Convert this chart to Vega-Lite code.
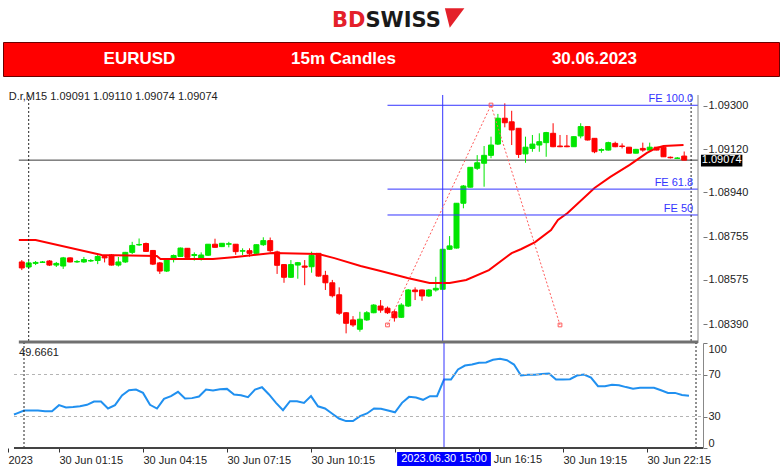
{
"$schema": "https://vega.github.io/schema/vega-lite/v6.json",
"background": "white",
"padding": {"left": 2, "top": 0, "right": 0, "bottom": 0},
"bounds": "flush",
"spacing": 0,
"config": {"view": {"stroke": null}, "font": "Liberation Sans", "axis": {"grid": false}},
"datasets": {
"candles": [
{"i":-1,"o":1.08649,"h":1.08657,"l":1.08615,"c":1.08624},
{"i":0,"o":1.08628,"h":1.08653,"l":1.08624,"c":1.08645},
{"i":1,"o":1.08643,"h":1.08653,"l":1.08636,"c":1.08647},
{"i":2,"o":1.08647,"h":1.08653,"l":1.08645,"c":1.08649},
{"i":3,"o":1.08653,"h":1.08657,"l":1.08632,"c":1.08636},
{"i":4,"o":1.08636,"h":1.08649,"l":1.08628,"c":1.08643},
{"i":5,"o":1.08632,"h":1.0867,"l":1.0862,"c":1.08666},
{"i":6,"o":1.08666,"h":1.08668,"l":1.08647,"c":1.08649},
{"i":7,"o":1.08649,"h":1.08657,"l":1.08645,"c":1.08651},
{"i":8,"o":1.08649,"h":1.0867,"l":1.08645,"c":1.08659},
{"i":9,"o":1.08653,"h":1.08661,"l":1.08649,"c":1.08655},
{"i":10,"o":1.08655,"h":1.08678,"l":1.0864,"c":1.08672},
{"i":11,"o":1.08672,"h":1.08678,"l":1.08647,"c":1.08666},
{"i":12,"o":1.08678,"h":1.08682,"l":1.08634,"c":1.08636},
{"i":13,"o":1.08636,"h":1.0867,"l":1.0863,"c":1.08649},
{"i":14,"o":1.08649,"h":1.08691,"l":1.08645,"c":1.08689},
{"i":15,"o":1.08689,"h":1.08733,"l":1.08682,"c":1.08718},
{"i":16,"o":1.0872,"h":1.08747,"l":1.08716,"c":1.08722},
{"i":17,"o":1.08726,"h":1.0873,"l":1.08691,"c":1.08693},
{"i":18,"o":1.08697,"h":1.08699,"l":1.08636,"c":1.0864},
{"i":19,"o":1.08645,"h":1.08649,"l":1.08599,"c":1.08611},
{"i":20,"o":1.08611,"h":1.08661,"l":1.08607,"c":1.08659},
{"i":21,"o":1.08659,"h":1.0868,"l":1.08647,"c":1.08676},
{"i":22,"o":1.08672,"h":1.08709,"l":1.0867,"c":1.08707},
{"i":23,"o":1.08706,"h":1.08707,"l":1.08668,"c":1.08668},
{"i":24,"o":1.08676,"h":1.08689,"l":1.08655,"c":1.0868},
{"i":25,"o":1.08665,"h":1.08689,"l":1.08655,"c":1.08678},
{"i":26,"o":1.08677,"h":1.08724,"l":1.08674,"c":1.08723},
{"i":27,"o":1.08723,"h":1.08746,"l":1.08709,"c":1.0871},
{"i":28,"o":1.08713,"h":1.08728,"l":1.08711,"c":1.08727},
{"i":29,"o":1.08723,"h":1.08733,"l":1.0871,"c":1.08725},
{"i":30,"o":1.08723,"h":1.08724,"l":1.08679,"c":1.08692},
{"i":31,"o":1.08694,"h":1.08706,"l":1.08678,"c":1.08696},
{"i":32,"o":1.08696,"h":1.08706,"l":1.08671,"c":1.08685},
{"i":33,"o":1.08685,"h":1.08722,"l":1.08682,"c":1.08721},
{"i":34,"o":1.08721,"h":1.08752,"l":1.08716,"c":1.08738},
{"i":35,"o":1.08738,"h":1.08751,"l":1.08689,"c":1.08696},
{"i":36,"o":1.08691,"h":1.08696,"l":1.08599,"c":1.08635},
{"i":37,"o":1.08638,"h":1.0864,"l":1.08562,"c":1.08585},
{"i":38,"o":1.08585,"h":1.08657,"l":1.08582,"c":1.08638},
{"i":39,"o":1.08636,"h":1.08649,"l":1.08579,"c":1.08646},
{"i":40,"o":1.08632,"h":1.08657,"l":1.08552,"c":1.08627},
{"i":41,"o":1.08629,"h":1.08692,"l":1.08604,"c":1.08677},
{"i":42,"o":1.08685,"h":1.08686,"l":1.08588,"c":1.0859},
{"i":43,"o":1.08593,"h":1.08612,"l":1.08532,"c":1.08562},
{"i":44,"o":1.08562,"h":1.08574,"l":1.08501,"c":1.08508},
{"i":45,"o":1.08512,"h":1.08543,"l":1.08428,"c":1.08435},
{"i":46,"o":1.08437,"h":1.0844,"l":1.08351,"c":1.08393},
{"i":47,"o":1.08407,"h":1.08423,"l":1.08378,"c":1.08386},
{"i":48,"o":1.08368,"h":1.08441,"l":1.08358,"c":1.0841},
{"i":49,"o":1.08407,"h":1.08444,"l":1.08403,"c":1.08437},
{"i":50,"o":1.08437,"h":1.08473,"l":1.08435,"c":1.08469},
{"i":51,"o":1.08465,"h":1.0849,"l":1.08437,"c":1.08448},
{"i":52,"o":1.08456,"h":1.08463,"l":1.08432,"c":1.08437},
{"i":53,"o":1.08441,"h":1.08448,"l":1.084,"c":1.08416},
{"i":54,"o":1.08418,"h":1.08477,"l":1.08415,"c":1.08469},
{"i":55,"o":1.08465,"h":1.08536,"l":1.08461,"c":1.08532},
{"i":56,"o":1.08532,"h":1.08543,"l":1.0849,"c":1.08525},
{"i":57,"o":1.08532,"h":1.08534,"l":1.08487,"c":1.08507},
{"i":58,"o":1.08507,"h":1.08536,"l":1.08503,"c":1.08532},
{"i":59,"o":1.08532,"h":1.08587,"l":1.08525,"c":1.08539},
{"i":60,"o":1.08535,"h":1.08703,"l":1.08532,"c":1.08702},
{"i":61,"o":1.08702,"h":1.08757,"l":1.08699,"c":1.08716},
{"i":62,"o":1.08707,"h":1.08895,"l":1.08705,"c":1.08894},
{"i":63,"o":1.08894,"h":1.0897,"l":1.08873,"c":1.08966},
{"i":64,"o":1.08961,"h":1.09045,"l":1.0896,"c":1.09044},
{"i":65,"o":1.0904,"h":1.09095,"l":1.09033,"c":1.09063},
{"i":66,"o":1.09061,"h":1.09133,"l":1.08963,"c":1.09094},
{"i":67,"o":1.09094,"h":1.09172,"l":1.09082,"c":1.09137},
{"i":68,"o":1.09141,"h":1.09267,"l":1.09137,"c":1.09249},
{"i":69,"o":1.09249,"h":1.09311,"l":1.09211,"c":1.0923},
{"i":70,"o":1.09234,"h":1.0928,"l":1.09137,"c":1.092},
{"i":71,"o":1.09207,"h":1.09208,"l":1.09083,"c":1.09098},
{"i":72,"o":1.091,"h":1.09172,"l":1.09063,"c":1.09128},
{"i":73,"o":1.09123,"h":1.09179,"l":1.09109,"c":1.09141},
{"i":74,"o":1.09137,"h":1.09186,"l":1.09109,"c":1.09151},
{"i":75,"o":1.09147,"h":1.09192,"l":1.09088,"c":1.09189},
{"i":76,"o":1.09186,"h":1.09228,"l":1.09128,"c":1.0913},
{"i":77,"o":1.09133,"h":1.09179,"l":1.09128,"c":1.0913},
{"i":78,"o":1.09133,"h":1.09179,"l":1.09128,"c":1.0913},
{"i":79,"o":1.0913,"h":1.09173,"l":1.09129,"c":1.09172},
{"i":80,"o":1.09175,"h":1.09228,"l":1.09165,"c":1.09214},
{"i":81,"o":1.09214,"h":1.09215,"l":1.09156,"c":1.09158},
{"i":82,"o":1.09165,"h":1.09166,"l":1.09103,"c":1.09109},
{"i":83,"o":1.09115,"h":1.09123,"l":1.09105,"c":1.09118},
{"i":84,"o":1.09116,"h":1.09151,"l":1.09114,"c":1.09147},
{"i":85,"o":1.09144,"h":1.09151,"l":1.09128,"c":1.0913},
{"i":86,"o":1.09133,"h":1.09144,"l":1.09123,"c":1.09131},
{"i":87,"o":1.09128,"h":1.09129,"l":1.09102,"c":1.09103},
{"i":88,"o":1.09103,"h":1.09121,"l":1.09102,"c":1.09119},
{"i":89,"o":1.09123,"h":1.09147,"l":1.09109,"c":1.09116},
{"i":90,"o":1.09116,"h":1.09147,"l":1.09109,"c":1.09128},
{"i":91,"o":1.09128,"h":1.09129,"l":1.09115,"c":1.09116},
{"i":92,"o":1.09128,"h":1.0913,"l":1.09087,"c":1.09088},
{"i":93,"o":1.09086,"h":1.09089,"l":1.09081,"c":1.09084},
{"i":94,"o":1.09081,"h":1.09087,"l":1.09079,"c":1.09083},
{"i":95,"o":1.09091,"h":1.0911,"l":1.09074,"c":1.09074}
],
"ma": [
{"i":-1.43,"v":1.08741},{"i":1,"v":1.08741},{"i":10.57,"v":1.08678},{"i":18.57,"v":1.08674},{"i":19.1,"v":1.08661},{"i":26.7,"v":1.08661},{"i":30,"v":1.0867},{"i":35.3,"v":1.08686},{"i":42,"v":1.08682},{"i":44.3,"v":1.08665},{"i":48.1,"v":1.08632},{"i":51,"v":1.08611},{"i":54.9,"v":1.08582},{"i":58.1,"v":1.08561},{"i":61,"v":1.08561},{"i":63.4,"v":1.08574},{"i":66.7,"v":1.08615},{"i":70,"v":1.08686},{"i":71.4,"v":1.08703},{"i":73.4,"v":1.08732},{"i":75.7,"v":1.08782},{"i":76.7,"v":1.08824},{"i":78.1,"v":1.08853},{"i":82,"v":1.08958},{"i":84.3,"v":1.09004},{"i":87.1,"v":1.09054},{"i":89.6,"v":1.09104},{"i":91,"v":1.09125},{"i":92,"v":1.09133},{"i":94.9,"v":1.09137}
],
"rsi": [
{"i":-1.43,"r":31.9},{"i":-1,"r":33},{"i":0,"r":35.7},{"i":1,"r":35.7},{"i":2,"r":35.7},{"i":3,"r":35.1},{"i":4,"r":35.1},{"i":5,"r":40.8},{"i":6,"r":38.6},{"i":7,"r":39.0},{"i":8,"r":39.7},{"i":9,"r":41.1},{"i":10,"r":44.3},{"i":11,"r":44.3},{"i":12,"r":37.6},{"i":13,"r":40.8},{"i":14,"r":50.0},{"i":15,"r":55.0},{"i":16,"r":55.7},{"i":17,"r":52.5},{"i":18,"r":41.1},{"i":19,"r":37.6},{"i":20,"r":46.8},{"i":21,"r":49.4},{"i":22,"r":53.5},{"i":23,"r":47.1},{"i":24,"r":47.5},{"i":25,"r":49.0},{"i":26,"r":55.7},{"i":27,"r":54.8},{"i":28,"r":56.0},{"i":29,"r":56.3},{"i":30,"r":51.0},{"i":31,"r":50.3},{"i":32,"r":48.4},{"i":33,"r":55.7},{"i":34,"r":57.9},{"i":35,"r":51.0},{"i":36,"r":43.0},{"i":37,"r":36.0},{"i":38,"r":44.6},{"i":39,"r":44.6},{"i":40,"r":43.0},{"i":41,"r":49.4},{"i":42,"r":39.7},{"i":43,"r":37.6},{"i":44,"r":32.9},{"i":45,"r":28.1},{"i":46,"r":25.6},{"i":47,"r":25.6},{"i":48,"r":30.3},{"i":49,"r":32.9},{"i":50,"r":37.6},{"i":51,"r":37.3},{"i":52,"r":35.7},{"i":53,"r":34.0},{"i":54,"r":43.0},{"i":55,"r":48.7},{"i":56,"r":48.0},{"i":57,"r":45.9},{"i":58,"r":49.4},{"i":59,"r":49.4},{"i":60,"r":65.2},{"i":61,"r":65.2},{"i":62,"r":74.8},{"i":63,"r":78.5},{"i":64,"r":79.5},{"i":65,"r":81.1},{"i":66,"r":81.5},{"i":67,"r":84.0},{"i":68,"r":84.9},{"i":69,"r":83.6},{"i":70,"r":79.5},{"i":71,"r":69.0},{"i":72,"r":69.7},{"i":73,"r":69.7},{"i":74,"r":70.5},{"i":75,"r":71.0},{"i":76,"r":65.2},{"i":77,"r":65.2},{"i":78,"r":65.5},{"i":79,"r":69.0},{"i":80,"r":70.0},{"i":81,"r":67.0},{"i":82,"r":58.9},{"i":83,"r":58.9},{"i":84,"r":60.3},{"i":85,"r":59.8},{"i":86,"r":58.0},{"i":87,"r":56.5},{"i":88,"r":57.3},{"i":89,"r":57.3},{"i":90,"r":57.3},{"i":91,"r":55.0},{"i":92,"r":52.5},{"i":93,"r":52.5},{"i":94,"r":50.5},{"i":95,"r":49.67}
]
},
"vconcat": [
{
"width": 776, "height": 42,
"layer": [
{"data": {"values": [{"t": "BD", "x": 46.71, "y": 35.7}]},
 "mark": {"type": "text", "align": "right", "baseline": "alphabetic", "font": "DejaVu Sans", "fontWeight": "bold", "fontSize": 21, "color": "#e4202a"},
 "encoding": {"x": {"field": "x", "type": "quantitative", "scale": {"domain": [0, 100]}, "axis": null}, "y": {"field": "y", "type": "quantitative", "scale": {"domain": [0, 100]}, "axis": null}, "text": {"field": "t"}}},
{"data": {"values": [{"t": "SWISS", "x": 46.71, "y": 35.7}]},
 "mark": {"type": "text", "align": "left", "baseline": "alphabetic", "font": "DejaVu Sans", "fontWeight": "bold", "fontSize": 21, "color": "#1a1a1a"},
 "encoding": {"x": {"field": "x", "type": "quantitative", "scale": {"domain": [0, 100]}, "axis": null}, "y": {"field": "y", "type": "quantitative", "scale": {"domain": [0, 100]}, "axis": null}, "text": {"field": "t"}}},
{"data": {"values": [{"x": 58.2, "y": 57}]},
 "mark": {"type": "point", "shape": "M -1 -1 L 1 -1 L -0.5 1 Z", "filled": true, "size": 380, "color": "#e4202a", "opacity": 1},
 "encoding": {"x": {"field": "x", "type": "quantitative", "scale": {"domain": [0, 100]}, "axis": null}, "y": {"field": "y", "type": "quantitative", "scale": {"domain": [0, 100]}, "axis": null}}}
]
},
{
"width": 776, "height": 34,
"view": {"fill": "#ff0000", "stroke": "#6a0000", "strokeWidth": 1},
"data": {"values": [{"t": "EURUSD", "x": 17.59}, {"t": "15m Candles", "x": 43.88}, {"t": "30.06.2023", "x": 76.22}]},
"mark": {"type": "text", "font": "Liberation Sans", "fontWeight": "bold", "fontSize": 17, "color": "white", "baseline": "middle", "align": "center"},
"encoding": {"x": {"field": "x", "type": "quantitative", "scale": {"domain": [0, 100]}, "axis": null}, "y": {"datum": 50, "type": "quantitative", "scale": {"domain": [0, 100]}, "axis": null}, "text": {"field": "t"}}
},
{
"width": 700, "height": 267,
"layer": [
{"data": {"values": [{"p": 1.09074}]},
 "mark": {"type": "rule", "color": "#3a3a3a", "strokeWidth": 1},
 "encoding": {"x": {"datum": -1.43, "type": "quantitative", "scale": {"domain": [-3, 97], "nice": false, "zero": false},
   "axis": {"labels": false, "ticks": false, "domain": false, "grid": false, "title": null}},
  "x2": {"datum": 97},
  "y": {"field": "p", "type": "quantitative", "scale": {"domain": [1.083107, 1.094252], "nice": false, "zero": false},
   "axis": {"orient": "right", "values": [1.0839, 1.08575, 1.08755, 1.0894, 1.0912, 1.093], "format": ".5f", "title": null, "grid": false, "domain": false, "ticks": true, "labels": true, "labelOverlap": false, "tickSize": 4, "tickColor": "#777", "labelPadding": 1, "labelFontSize": 11, "labelColor": "#222", "labelFont": "Liberation Sans"}}}},
{"data": {"name": "candles"},
 "mark": {"type": "rule", "strokeWidth": 1},
 "encoding": {"x": {"field": "i", "type": "quantitative", "scale": {"domain": [-3, 97], "nice": false, "zero": false}}, "y": {"field": "l", "type": "quantitative", "scale": {"domain": [1.083107, 1.094252], "nice": false, "zero": false}}, "y2": {"field": "h"},
  "color": {"condition": {"test": "datum.c >= datum.o", "value": "#00e600"}, "value": "#ff0000"}}},
{"data": {"name": "candles"},
 "mark": {"type": "bar", "size": 5, "strokeWidth": 1},
 "encoding": {"x": {"field": "i", "type": "quantitative", "scale": {"domain": [-3, 97], "nice": false, "zero": false}}, "y": {"field": "o", "type": "quantitative", "scale": {"domain": [1.083107, 1.094252], "nice": false, "zero": false}},
  "y2": {"field": "c"},
  "color": {"condition": {"test": "datum.c >= datum.o", "value": "#00e600"}, "value": "#ff0000"},
  "stroke": {"condition": {"test": "datum.c >= datum.o", "value": "#00e600"}, "value": "#ff0000"}}},
{"data": {"name": "ma"},
 "mark": {"type": "line", "color": "#ff0000", "strokeWidth": 2},
 "encoding": {"x": {"field": "i", "type": "quantitative", "scale": {"domain": [-3, 97], "nice": false, "zero": false}}, "y": {"field": "v", "type": "quantitative", "scale": {"domain": [1.083107, 1.094252], "nice": false, "zero": false}}}},
{"data": {"values": [{"p": 1.09303}, {"p": 1.08953}, {"p": 1.08845}]},
 "mark": {"type": "rule", "color": "#3434ff", "strokeWidth": 1},
 "encoding": {"x": {"datum": 52, "type": "quantitative", "scale": {"domain": [-3, 97], "nice": false, "zero": false}}, "x2": {"datum": 97}, "y": {"field": "p", "type": "quantitative", "scale": {"domain": [1.083107, 1.094252], "nice": false, "zero": false}}}},
{"data": {"values": [{"i": 60}]},
 "mark": {"type": "rule", "color": "#3434ff", "strokeWidth": 1},
 "encoding": {"x": {"field": "i", "type": "quantitative", "scale": {"domain": [-3, 97], "nice": false, "zero": false}}, "y": {"datum": 1.093459, "type": "quantitative", "scale": {"domain": [1.083107, 1.094252], "nice": false, "zero": false}}, "y2": {"datum": 1.083149}}},
{"data": {"values": [{"i": 0}, {"i": 96}]},
 "mark": {"type": "rule", "color": "#222222", "strokeWidth": 1, "strokeDash": [2, 2]},
 "encoding": {"x": {"field": "i", "type": "quantitative", "scale": {"domain": [-3, 97], "nice": false, "zero": false}}, "y": {"datum": 1.093459, "type": "quantitative", "scale": {"domain": [1.083107, 1.094252], "nice": false, "zero": false}}, "y2": {"datum": 1.083149}}},
{"data": {"values": [{"i": 52, "p": 1.08386}, {"i": 67, "p": 1.09304}, {"i": 77, "p": 1.08386}]},
 "mark": {"type": "line", "color": "#ff5a5a", "strokeWidth": 1, "strokeDash": [2, 2]},
 "encoding": {"x": {"field": "i", "type": "quantitative", "scale": {"domain": [-3, 97], "nice": false, "zero": false}}, "y": {"field": "p", "type": "quantitative", "scale": {"domain": [1.083107, 1.094252], "nice": false, "zero": false}}}},
{"data": {"values": [{"i": 52, "p": 1.08386}, {"i": 67, "p": 1.09304}, {"i": 77, "p": 1.08386}]},
 "mark": {"type": "point", "shape": "square", "filled": false, "size": 14, "color": "#ff5a5a", "strokeWidth": 1, "opacity": 1},
 "encoding": {"x": {"field": "i", "type": "quantitative", "scale": {"domain": [-3, 97], "nice": false, "zero": false}}, "y": {"field": "p", "type": "quantitative", "scale": {"domain": [1.083107, 1.094252], "nice": false, "zero": false}}}},
{"data": {"values": [{"t": "FE 100.0", "p": 1.09303}, {"t": "FE 61.8", "p": 1.08953}, {"t": "FE 50", "p": 1.08845}]},
 "mark": {"type": "text", "align": "right", "baseline": "bottom", "dy": -1, "fontSize": 11, "color": "#3434ff", "font": "Liberation Sans"},
 "encoding": {"x": {"datum": 96.3, "type": "quantitative", "scale": {"domain": [-3, 97], "nice": false, "zero": false}}, "y": {"field": "p", "type": "quantitative", "scale": {"domain": [1.083107, 1.094252], "nice": false, "zero": false}}, "text": {"field": "t"}}},
{"data": {"values": [{"i": 97}]},
 "mark": {"type": "rule", "color": "#888888", "strokeWidth": 1},
 "encoding": {"x": {"field": "i", "type": "quantitative", "scale": {"domain": [-3, 97], "nice": false, "zero": false}}, "y": {"datum": 1.093459, "type": "quantitative", "scale": {"domain": [1.083107, 1.094252], "nice": false, "zero": false}}, "y2": {"datum": 1.083107}}},
{"data": {"values": [{"p": 1.083149}]},
 "mark": {"type": "rule", "color": "#707070", "strokeWidth": 3},
 "encoding": {"x": {"datum": -1.43, "type": "quantitative", "scale": {"domain": [-3, 97], "nice": false, "zero": false}}, "x2": {"datum": 97}, "y": {"field": "p", "type": "quantitative", "scale": {"domain": [1.083107, 1.094252], "nice": false, "zero": false}}}},
{"data": {"values": [{"t": "1.09074", "p": 1.09074}]},
 "mark": {"type": "rect", "color": "#000000"},
 "encoding": {"x": {"datum": 97.43, "type": "quantitative", "scale": {"domain": [-3, 97], "nice": false, "zero": false}}, "x2": {"datum": 103.43}, "y": {"datum": 1.09097, "type": "quantitative", "scale": {"domain": [1.083107, 1.094252], "nice": false, "zero": false}}, "y2": {"datum": 1.09047}}},
{"data": {"values": [{"t": "1.09074", "p": 1.09074}]},
 "mark": {"type": "text", "align": "center", "baseline": "middle", "fontSize": 11, "color": "white", "font": "Liberation Sans"},
 "encoding": {"x": {"datum": 100.43, "type": "quantitative", "scale": {"domain": [-3, 97], "nice": false, "zero": false}}, "y": {"field": "p", "type": "quantitative", "scale": {"domain": [1.083107, 1.094252], "nice": false, "zero": false}}, "text": {"field": "t"}}},
{"data": {"values": [{"t": "D.r,M15  1.09091 1.09110 1.09074 1.09074", "p": 1.093376}]},
 "mark": {"type": "text", "align": "left", "baseline": "middle", "fontSize": 11, "color": "#222222", "font": "Liberation Sans"},
 "encoding": {"x": {"datum": -2.9, "type": "quantitative", "scale": {"domain": [-3, 97], "nice": false, "zero": false}}, "y": {"field": "p", "type": "quantitative", "scale": {"domain": [1.083107, 1.094252], "nice": false, "zero": false}}, "text": {"field": "t"}}}
]
},
{
"width": 700, "height": 105,
"layer": [
{"data": {"name": "rsi"},
 "mark": {"type": "line", "color": "#2090f0", "strokeWidth": 2},
 "encoding": {
  "x": {"field": "i", "type": "quantitative", "scale": {"domain": [-3, 97], "nice": false, "zero": false},
   "axis": {"orient": "bottom", "values": [-2.3, 5, 17, 29, 41, 53, 65, 77, 89], "labelExpr": "datum.value < 0 ? '2023' : (datum.value == 53 || datum.value == 65) ? '' : '30 Jun ' + (datum.value < 40 ? '0' : '') + floor(datum.value / 4) + ':15'", "labelAlign": "left", "domain": false, "ticks": true, "labels": true, "tickSize": 4, "tickColor": "#333", "labelPadding": 2, "labelFontSize": 11, "labelColor": "#222", "labelFont": "Liberation Sans", "grid": false, "title": null, "labelOverlap": false, "labelFlush": false}},
  "y": {"field": "r", "type": "quantitative", "scale": {"domain": [0, 100], "nice": false, "zero": false},
   "axis": {"orient": "right", "values": [0, 30, 70, 100], "tickCount": 4, "labelFlush": false, "labelOverlap": false, "labelBound": false,
     "labelBaseline": {"condition": [{"test": "datum.value == 100", "value": "top"}, {"test": "datum.value == 0", "value": "bottom"}], "value": "middle"},
     "domain": true, "ticks": true, "labels": true, "domainColor": "#888", "tickSize": 4, "tickColor": "#777", "labelPadding": 1, "labelFontSize": 11, "labelColor": "#222", "labelFont": "Liberation Sans", "grid": false, "title": null}}}},
{"data": {"values": [{"a": -1.43, "b": 97, "v": 70}, {"a": -1.43, "b": 97, "v": 30}]},
 "mark": {"type": "rule", "color": "#b4b4b4", "strokeWidth": 1, "strokeDash": [3, 3]},
 "encoding": {"x": {"field": "a", "type": "quantitative", "scale": {"domain": [-3, 97], "nice": false, "zero": false}}, "x2": {"field": "b"}, "y": {"field": "v", "type": "quantitative", "scale": {"domain": [0, 100], "nice": false, "zero": false}}}},
{"data": {"values": [{"i": 0, "lo": 0, "hi": 100}, {"i": 96, "lo": 0, "hi": 100}]},
 "mark": {"type": "rule", "color": "#222222", "strokeWidth": 1, "strokeDash": [2, 2]},
 "encoding": {"x": {"field": "i", "type": "quantitative", "scale": {"domain": [-3, 97], "nice": false, "zero": false}}, "y": {"field": "lo", "type": "quantitative", "scale": {"domain": [0, 100], "nice": false, "zero": false}}, "y2": {"field": "hi"}}},
{"data": {"values": [{"i": 60, "lo": 0, "hi": 100}]},
 "mark": {"type": "rule", "color": "#3434ff", "strokeWidth": 1},
 "encoding": {"x": {"field": "i", "type": "quantitative", "scale": {"domain": [-3, 97], "nice": false, "zero": false}}, "y": {"field": "lo", "type": "quantitative", "scale": {"domain": [0, 100], "nice": false, "zero": false}}, "y2": {"field": "hi"}}},
{"data": {"values": [{"a": -1.43, "b": 97, "v": 0}]},
 "mark": {"type": "rule", "color": "#444444", "strokeWidth": 2},
 "encoding": {"x": {"field": "a", "type": "quantitative", "scale": {"domain": [-3, 97], "nice": false, "zero": false}}, "x2": {"field": "b"}, "y": {"field": "v", "type": "quantitative", "scale": {"domain": [0, 100], "nice": false, "zero": false}}}},
{"data": {"values": [{"t": "49.6661", "i": -0.7, "v": 90.5}]},
 "mark": {"type": "text", "align": "left", "baseline": "middle", "fontSize": 11, "color": "#222222", "font": "Liberation Sans"},
 "encoding": {"x": {"field": "i", "type": "quantitative", "scale": {"domain": [-3, 97], "nice": false, "zero": false}}, "y": {"field": "v", "type": "quantitative", "scale": {"domain": [0, 100], "nice": false, "zero": false}}, "text": {"field": "t"}}},
{"data": {"values": [{"a": 53.3, "b": 66.7, "lo": -3.8, "hi": -17.1}]},
 "mark": {"type": "rect", "color": "#0000ff"},
 "encoding": {"x": {"field": "a", "type": "quantitative", "scale": {"domain": [-3, 97], "nice": false, "zero": false}}, "x2": {"field": "b"}, "y": {"field": "lo", "type": "quantitative", "scale": {"domain": [0, 100], "nice": false, "zero": false}}, "y2": {"field": "hi"}}},
{"data": {"values": [{"t": "2023.06.30 15:00", "i": 60, "v": -10.5}]},
 "mark": {"type": "text", "align": "center", "baseline": "middle", "fontSize": 11, "color": "white", "font": "Liberation Sans"},
 "encoding": {"x": {"field": "i", "type": "quantitative", "scale": {"domain": [-3, 97], "nice": false, "zero": false}}, "y": {"field": "v", "type": "quantitative", "scale": {"domain": [0, 100], "nice": false, "zero": false}}, "text": {"field": "t"}}},
{"data": {"values": [{"t": "Jun 16:15", "i": 67.1, "v": -5.71}]},
 "mark": {"type": "text", "align": "left", "baseline": "top", "fontSize": 11, "color": "#222222", "font": "Liberation Sans"},
 "encoding": {"x": {"field": "i", "type": "quantitative", "scale": {"domain": [-3, 97], "nice": false, "zero": false}}, "y": {"field": "v", "type": "quantitative", "scale": {"domain": [0, 100], "nice": false, "zero": false}}, "text": {"field": "t"}}}
]
}
]
}
